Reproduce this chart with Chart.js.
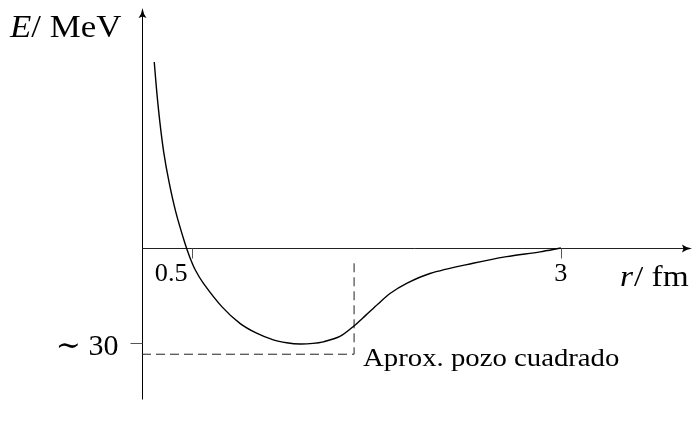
<!DOCTYPE html>
<html>
<head>
<meta charset="utf-8">
<script src="https://cdn.jsdelivr.net/npm/chart.js@4.4.1/dist/chart.umd.min.js"></script>
<style>
  html, body { margin: 0; padding: 0; background: #fff; }
  #wrap { position: relative; width: 694px; height: 429px; }
</style>
</head>
<body>
<div id="wrap"><canvas id="potential"></canvas></div>
<script>
// nucleon-nucleon potential: r in fm, E in MeV
const radius = [0.247, 0.264, 0.285, 0.311, 0.347, 0.393, 0.452, 0.487, 0.525, 0.58, 0.706, 0.827, 0.94, 1.053, 1.144, 1.234, 1.322, 1.391, 1.504, 1.599, 1.68, 1.762, 1.843, 1.956, 2.114, 2.405, 2.633, 2.859, 3.0];
const energy = [58.5, 49.1, 39.6, 30.2, 20.8, 11.3, 1.9, -2.8, -6.9, -11.1, -18.5, -23.7, -26.8, -28.9, -29.8, -30.2, -30.0, -29.5, -27.8, -24.5, -21.1, -17.6, -14.3, -11.1, -8.0, -4.8, -2.7, -1.2, 0];

// square well approximation
const wellRadius = 1.6;
const wellDepth = -33.4;
const wellTop = -3.5;

const xTicks = [0.5, 3];
const xTickLabels = ['0.5', '3'];
const yTicks = [-30];
const yTickLabels = ['\u223C 30'];

const xRange = [0.164, 3.888];
const yRange = [-47.8, 75.5];

const SERIF = '"Liberation Serif", "DejaVu Serif", serif';

const drawArrow = (ctx, x, y, dir) => {
    // dir: 'up' or 'right'
    ctx.save();
    ctx.translate(x, y);
    if (dir === 'right') ctx.rotate(Math.PI / 2);
    ctx.beginPath();
    ctx.moveTo(0, 0);
    ctx.quadraticCurveTo(0.9, 6, 4, 10);
    ctx.lineTo(0, 8.5);
    ctx.lineTo(-4, 10);
    ctx.quadraticCurveTo(-0.9, 6, 0, 0);
    ctx.closePath();
    ctx.fill();
    ctx.restore();
};

// text with a horizontal stretch, serif faces run narrower than the TeX ones
const drawText = (ctx, text, x, y, size, opts = {}) => {
    const sx = opts.stretch || 1;
    ctx.save();
    ctx.font = (opts.italic ? 'italic ' : '') + size + 'px ' + SERIF;
    const w = ctx.measureText(text).width * sx;
    let left = x;
    if (opts.align === 'right') left = x - w;
    if (opts.align === 'center') left = x - w / 2;
    ctx.translate(left, y);
    ctx.scale(sx, 1);
    ctx.textAlign = 'left';
    ctx.fillText(text, 0, 0);
    ctx.restore();
    return w;
};

const axesPlugin = {
    id: 'axes',
    beforeDatasetsDraw(chart) {
        const { ctx, chartArea, scales: { x, y } } = chart;
        const x0 = Math.round(chartArea.left) + 0.5;
        const y0 = Math.round(y.getPixelForValue(0)) + 0.5;

        ctx.save();
        ctx.lineWidth = 1;
        ctx.fillStyle = '#000';

        // vertical axis
        ctx.strokeStyle = '#000';
        ctx.beginPath();
        ctx.moveTo(x0, y.getPixelForValue(yRange[0]) - 0.5);
        ctx.lineTo(x0, chartArea.top + 5);
        ctx.stroke();
        drawArrow(ctx, x0, chartArea.top, 'up');

        // horizontal axis
        ctx.strokeStyle = '#222';
        ctx.beginPath();
        ctx.moveTo(x0, y0);
        ctx.lineTo(chartArea.right - 5, y0);
        ctx.stroke();
        drawArrow(ctx, chartArea.right, y0, 'right');

        // tick marks
        ctx.strokeStyle = '#555';
        xTicks.forEach((t) => {
            const px = Math.round(x.getPixelForValue(t)) + 0.5;
            ctx.beginPath();
            ctx.moveTo(px, y0);
            ctx.lineTo(px, y0 + 10);
            ctx.stroke();
        });
        yTicks.forEach((t) => {
            const py = Math.round(y.getPixelForValue(t)) + 0.5;
            ctx.beginPath();
            ctx.moveTo(x0 - 12, py);
            ctx.lineTo(x0, py);
            ctx.stroke();
        });

        // tick labels
        ctx.fillStyle = '#000';
        ctx.textBaseline = 'alphabetic';
        drawText(ctx, xTickLabels[0], x.getPixelForValue(xTicks[0]) - 4, y0 + 32, 25, { align: 'right', stretch: 1.05 });
        drawText(ctx, xTickLabels[1], x.getPixelForValue(xTicks[1]), y0 + 32, 25, { align: 'center', stretch: 1.05 });
        drawText(ctx, yTickLabels[0], x0 - 24, y.getPixelForValue(yTicks[0]) + 12, 30, { align: 'right' });

        // axis titles
        let cx = 10;
        cx += drawText(ctx, 'E', cx, 37, 32, { italic: true, stretch: 1.09 });
        drawText(ctx, '/ MeV', cx, 37, 32, { stretch: 1.09 });

        cx = 620;
        cx += drawText(ctx, 'r', cx, y0 + 37, 29, { italic: true, stretch: 1.15 });
        drawText(ctx, '/ fm', cx + 1, y0 + 37, 29, { stretch: 1.15 });

        drawText(ctx, 'Aprox. pozo cuadrado', x.getPixelForValue(wellRadius) + 9, y.getPixelForValue(wellDepth) + 12, 25, { stretch: 1.15 });

        ctx.restore();
    }
};

new Chart(document.getElementById('potential'), {
    type: 'scatter',
    data: {
        datasets: [
            {
                data: radius.map((r, i) => ({ x: r, y: energy[i] })),
                showLine: true,
                borderColor: '#000',
                borderWidth: 1.4,
                pointRadius: 0,
                tension: 0.3,
                clip: false
            },
            {
                data: [
                    { x: xRange[0], y: wellDepth },
                    { x: wellRadius, y: wellDepth },
                    { x: wellRadius, y: wellTop }
                ],
                showLine: true,
                borderColor: '#222',
                borderWidth: 1,
                borderDash: [9, 5],
                pointRadius: 0,
                clip: false
            }
        ]
    },
    options: {
        responsive: true,
        maintainAspectRatio: false,
        animation: false,
        events: [],
        layout: {
            padding: { left: 142, top: 8, right: 2, bottom: 29 }
        },
        plugins: {
            legend: { display: false },
            tooltip: { enabled: false }
        },
        scales: {
            x: { type: 'linear', display: false, min: xRange[0], max: xRange[1] },
            y: { type: 'linear', display: false, min: yRange[0], max: yRange[1] }
        }
    },
    plugins: [axesPlugin]
});
</script>
</body>
</html>
